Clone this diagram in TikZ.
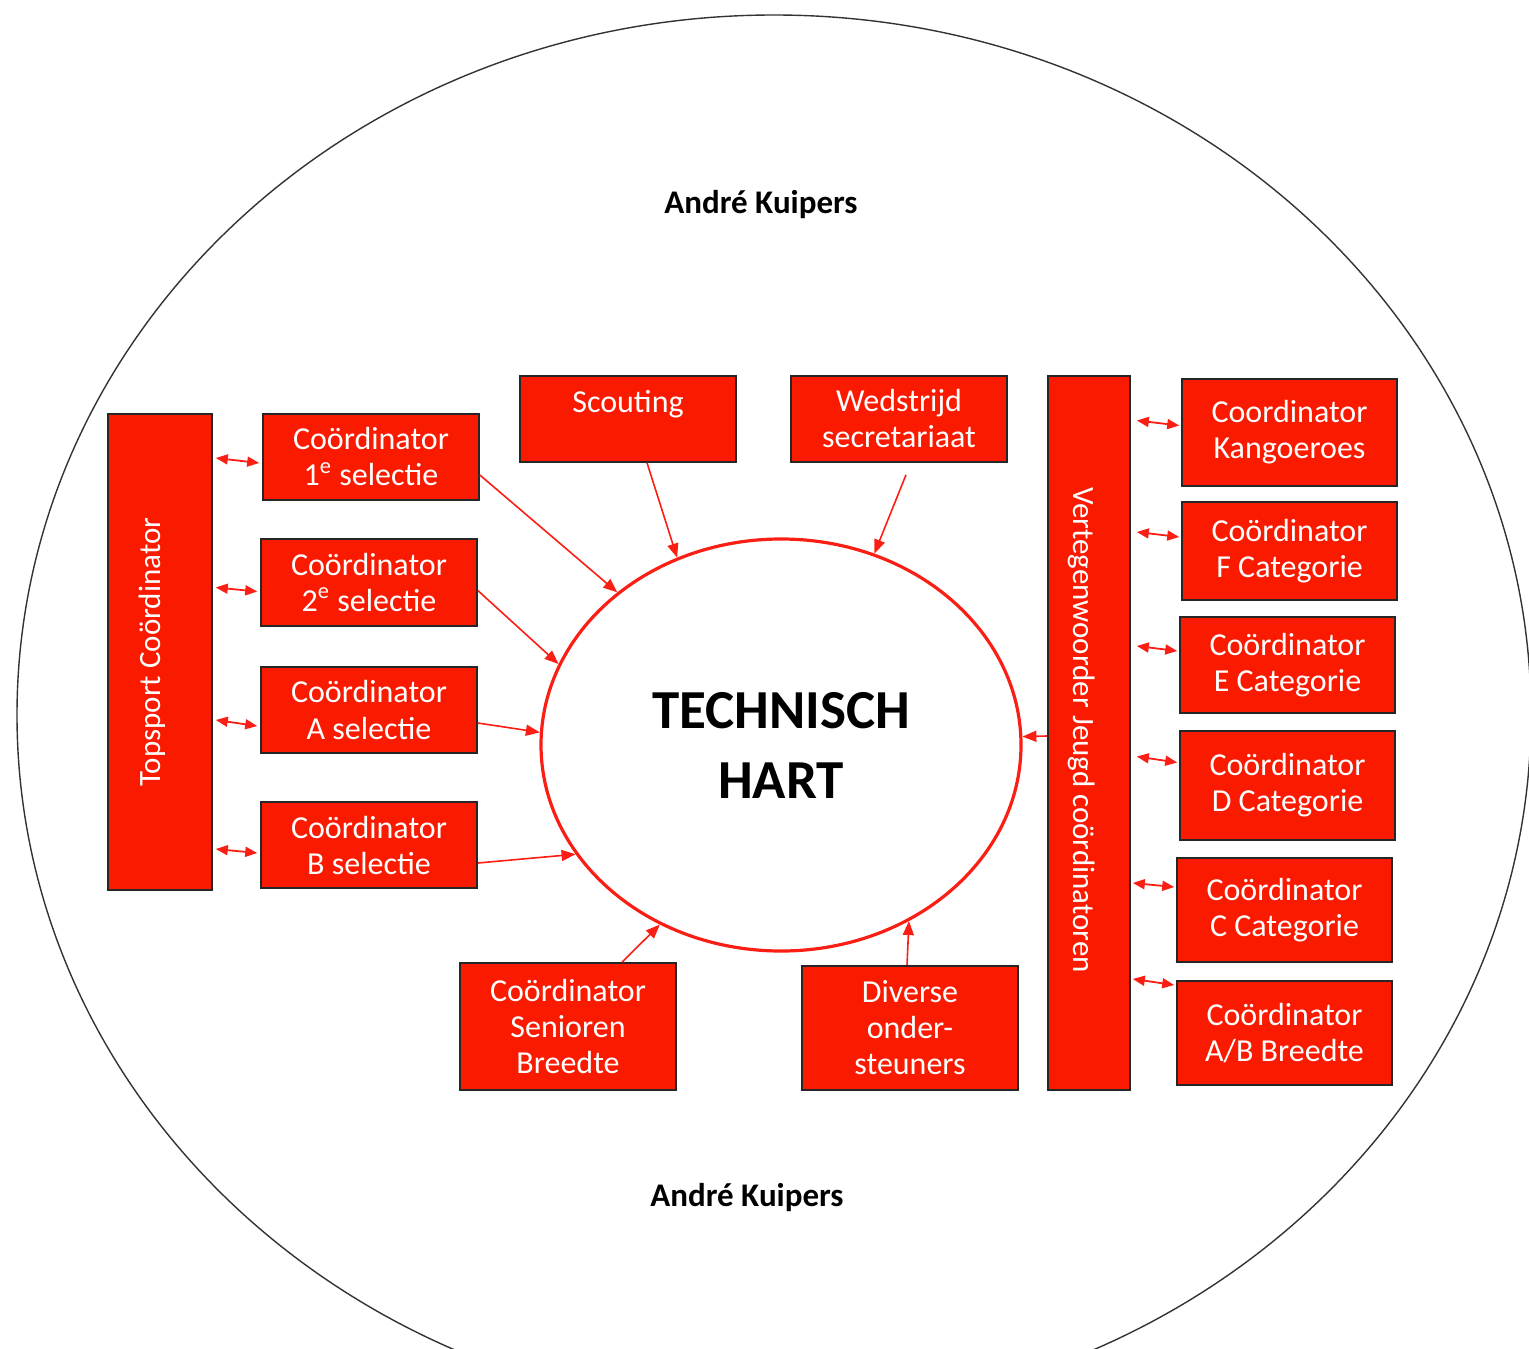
\documentclass[tikz,border=0pt]{standalone}
\usepackage{fontspec}
\setmainfont{Carlito}
\usetikzlibrary{arrows.meta,shapes.geometric}
\definecolor{boxred}{RGB}{249,26,0}
\definecolor{linered}{RGB}{250,30,20}
\begin{document}
\begin{tikzpicture}[x=0.5pt,y=-0.5pt,
  rbox/.style={draw=black!85,line width=0.8pt,fill=boxred,text=white,align=center,
    inner sep=0pt,font=\fontsize{16}{18}\selectfont},
  dbl/.style={linered,line width=0.9pt,{Triangle[length=6pt,width=5pt]}-{Triangle[length=6pt,width=5pt]}},
  feed/.style={linered,line width=0.8pt,-{Triangle[length=7pt,width=5.5pt]}},
  vtext/.style={text=white,font=\fontsize{15.5}{18}\selectfont},
  title/.style={font=\fontsize{16.5}{18}\selectfont\bfseries,text=black}]
\useasboundingbox (0,0) rectangle (1529,1348);
\begin{scope}
\clip (0,0) rectangle (1529,1348);
\draw[black!80,line width=0.7pt] (774,715) ellipse [x radius=757, y radius=700];
\end{scope}
\node[title] (ak1) at (761,205) {André Kuipers};
\node[title] (ak2) at (747,1197) {André Kuipers};
% central ellipse
\node[ellipse,draw=linered,line width=1.6pt,minimum width=240pt,minimum height=206pt,inner sep=0pt,
  align=center,font=\fontsize{27.5}{35}\selectfont\bfseries] (hart) at (781,745) {TECHNISCH\\HART};
% left column
\node[rbox,minimum width=52pt,minimum height=238pt] (top) at (160,652) {};
\node[rotate=90,vtext] (toptxt) at (152,652) {Topsport Coördinator};
\node[rbox,minimum width=108pt,minimum height=43pt] (c1) at (371,457) {Coördinator\\1\textsuperscript{e} selectie};
\node[rbox,minimum width=108pt,minimum height=43.5pt] (c2) at (369,582.5) {Coördinator\\2\textsuperscript{e} selectie};
\node[rbox,minimum width=108pt,minimum height=43pt] (cA) at (369,710) {Coördinator\\A selectie};
\node[rbox,minimum width=108pt,minimum height=43pt] (cB) at (369,845) {Coördinator\\B selectie};
% top
\node[rbox,minimum width=108pt,minimum height=43pt] (scout) at (628,419) {Scouting\\\mbox{}};
\node[rbox,minimum width=108pt,minimum height=43pt] (wed) at (899,419) {Wedstrijd\\secretariaat};
% bottom
\node[rbox,minimum width=108pt,minimum height=63.5pt] (sen) at (568,1026.5) {Coördinator\\Senioren\\Breedte};
\node[rbox,minimum width=108pt,minimum height=62pt] (div) at (910,1028) {Diverse\\onder-\\steuners};
% right column
\node[rbox,minimum width=41pt,minimum height=357pt] (vj) at (1089,733) {};
\node[rotate=-90,vtext] (vjtxt) at (1082,730) {Vertegenwoorder Jeugd coördinatoren};
\node[rbox,minimum width=107.5pt,minimum height=53.5pt] (kang) at (1289.5,432.5) {Coordinator\\Kangoeroes};
\node[rbox,minimum width=107.5pt,minimum height=49pt] (cF) at (1289.5,551) {Coördinator\\F Categorie};
\node[rbox,minimum width=107.5pt,minimum height=48pt] (cE) at (1287.5,665) {Coördinator\\E Categorie};
\node[rbox,minimum width=107.5pt,minimum height=54.5pt] (cD) at (1287.5,785.5) {Coördinator\\D Categorie};
\node[rbox,minimum width=107.5pt,minimum height=52pt] (cC) at (1284.5,910) {Coördinator\\C Categorie};
\node[rbox,minimum width=107.5pt,minimum height=52pt] (cAB) at (1284.5,1033) {Coördinator\\A/B Breedte};
% left double arrows
\draw[dbl] ([xshift=1.5pt,yshift=-0.5pt]top.east |- c1.west) -- ([xshift=-1.5pt,yshift=-3pt]c1.west);
\draw[dbl] ([xshift=1.5pt,yshift=-2.5pt]top.east |- c2.west) -- ([xshift=-1.5pt,yshift=-4.5pt]c2.west);
\draw[dbl] ([xshift=1.5pt,yshift=-5pt]top.east |- cA.west) -- ([xshift=-1.5pt,yshift=-8pt]cA.west);
\draw[dbl] ([xshift=1.5pt,yshift=-2pt]top.east |- cB.west) -- ([xshift=-1.5pt,yshift=-4pt]cB.west);
% right double arrows
\draw[dbl] ([xshift=3pt,yshift=6pt]vj.east |- kang.west) -- ([xshift=-1pt,yshift=3.5pt]kang.west);
\draw[dbl] ([xshift=3pt,yshift=9.5pt]vj.east |- cF.west) -- ([xshift=-1pt,yshift=7pt]cF.west);
\draw[dbl] ([xshift=3pt,yshift=9.5pt]vj.east |- cE.west) -- ([xshift=-1pt,yshift=7pt]cE.west);
\draw[dbl] ([xshift=3pt,yshift=14.5pt]vj.east |- cD.west) -- ([xshift=-1pt,yshift=11.5pt]cD.west);
\draw[dbl] ([xshift=1pt,yshift=13.5pt]vj.east |- cC.west) -- ([xshift=-1pt,yshift=11.5pt]cC.west);
\draw[dbl] ([xshift=1pt,yshift=27pt]vj.east |- cAB.west) -- ([xshift=-1pt,yshift=24pt]cAB.west);
% feeders to the heart
\draw[feed] ([yshift=-9pt]c1.east) -- (hart.137.5);
\draw[feed] ([yshift=-4pt]c2.east) -- (hart.160.5);
\draw[feed] ([yshift=-6.5pt]cA.east) -- (hart.177);
\draw[feed] ([yshift=-9pt]cB.east) -- (hart.208);
\draw[feed] ([xshift=9.5pt]scout.south) -- (hart.119);
\draw[feed] ([xshift=3.5pt,yshift=-6pt]wed.south) -- (hart.64.5);
\draw[feed] ([xshift=27pt]sen.north) -- (hart.236.5);
\draw[feed] ([xshift=-1.5pt]div.north) -- (hart.306);
\draw[feed] ([yshift=-1.5pt]vj.west) -- (hart.2.5);
\end{tikzpicture}
\end{document}
